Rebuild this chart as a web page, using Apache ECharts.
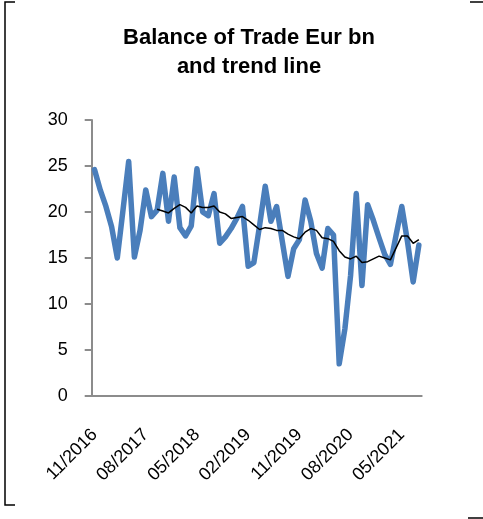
<!DOCTYPE html>
<html>
<head>
<meta charset="utf-8">
<script src="https://cdn.jsdelivr.net/npm/echarts@6/dist/echarts.min.js"></script>
<style>
    html, body { margin: 0; padding: 0; background: #fff; }
    #chart { width: 483px; height: 519px; }
</style>
</head>
<body>
<div id="chart"></div>
<script>
    // months shown on the category axis
    var months = [
        '11/2016', '12/2016',
        '01/2017', '02/2017', '03/2017', '04/2017', '05/2017', '06/2017', '07/2017', '08/2017', '09/2017', '10/2017', '11/2017', '12/2017',
        '01/2018', '02/2018', '03/2018', '04/2018', '05/2018', '06/2018', '07/2018', '08/2018', '09/2018', '10/2018', '11/2018', '12/2018',
        '01/2019', '02/2019', '03/2019', '04/2019', '05/2019', '06/2019', '07/2019', '08/2019', '09/2019', '10/2019', '11/2019', '12/2019',
        '01/2020', '02/2020', '03/2020', '04/2020', '05/2020', '06/2020', '07/2020', '08/2020', '09/2020', '10/2020', '11/2020', '12/2020',
        '01/2021', '02/2021', '03/2021', '04/2021', '05/2021', '06/2021', '07/2021', '08/2021'
    ];

    // balance of trade, EUR bn
    var balance = [
        24.6, 22.4, 20.6, 18.4, 15.0, 20.2, 25.5, 15.1, 18.0, 22.4,
        19.5, 20.2, 24.2, 19.0, 23.8, 18.3, 17.4, 18.5, 24.7, 20.0,
        19.6, 22.0, 16.6, 17.3, 18.2, 19.3, 20.6, 14.1, 14.5, 18.5,
        22.8, 19.0, 20.6, 16.8, 13.0, 16.0, 17.0, 21.3, 19.0, 15.5,
        13.9, 18.2, 17.5, 3.5, 7.3, 13.1, 22.0, 12.0, 20.8, 19.1,
        17.2, 15.4, 14.3, 17.5, 20.6, 16.8, 12.4, 16.4
    ];

    // trend line (starts after the first 11 months)
    var trend = [
        null, null, null, null, null, null, null, null, null, null, null,
        20.3, 20.1, 19.9, 20.4, 20.8, 20.5, 19.9, 20.65, 20.5,
        20.5, 20.65, 20.0, 19.8, 19.3, 19.4, 19.5, 19.1, 18.6, 18.1,
        18.3, 18.2, 18.0, 18.0, 17.6, 17.3, 17.1, 17.8, 18.2, 18.0,
        17.2, 17.1, 16.8, 15.8, 15.1, 14.9, 15.2, 14.5, 14.6, 14.9,
        15.2, 15.0, 14.8, 16.1, 17.4, 17.4, 16.6, 17.0
    ];

    var chart = echarts.init(document.getElementById('chart'), null, { renderer: 'canvas' });
    var axisGray = '#8c8c8c';
    var font = '"Liberation Sans", Arial, sans-serif';

    chart.setOption({
        animation: false,
        title: {
            text: 'Balance of Trade Eur bn\nand trend line',
            left: 244,
            top: 18,
            textAlign: 'center',
            textStyle: {
                fontFamily: font,
                fontSize: 22,
                fontWeight: 'bold',
                lineHeight: 29,
                color: '#000'
            }
        },
        graphic: [
            { type: 'polyline', shape: { points: [[15, 2], [5, 2], [5, 505], [15, 505]] }, style: { stroke: '#000', lineWidth: 1.5, fill: null } },
            { type: 'line', shape: { x1: 470, y1: 2, x2: 483, y2: 2 }, style: { stroke: '#000', lineWidth: 1.5 } },
            { type: 'line', shape: { x1: 468, y1: 518, x2: 483, y2: 518 }, style: { stroke: '#000', lineWidth: 1.5 } }
        ],
        grid: {
            left: 91.7,
            right: 61.3,
            top: 120,
            bottom: 123
        },
        xAxis: {
            type: 'category',
            data: months,
            boundaryGap: true,
            axisLine: { lineStyle: { color: axisGray, width: 2 } },
            axisTick: { interval: 8, length: 7, lineStyle: { color: axisGray, width: 2 } },
            axisLabel: {
                interval: 8,
                rotate: 45,
                margin: 36,
                fontFamily: font,
                fontSize: 18,
                color: '#000'
            },
            splitLine: { show: false }
        },
        yAxis: {
            type: 'value',
            min: 0,
            max: 30,
            interval: 5,
            axisLine: { show: true, lineStyle: { color: axisGray, width: 2 } },
            axisTick: { show: true, length: 7, lineStyle: { color: axisGray, width: 2 } },
            axisLabel: {
                margin: 24,
                fontFamily: font,
                fontSize: 18,
                color: '#000'
            },
            splitLine: { show: false }
        },
        series: [
            {
                name: 'Balance of Trade',
                type: 'line',
                data: balance,
                showSymbol: false,
                symbol: 'none',
                lineStyle: { color: '#4A7EBB', width: 5.5, join: 'round', cap: 'round' },
                z: 2
            },
            {
                name: 'Trend',
                type: 'line',
                data: trend,
                showSymbol: false,
                symbol: 'none',
                lineStyle: { color: '#000', width: 1.5 },
                z: 3
            }
        ]
    });
</script>
</body>
</html>
